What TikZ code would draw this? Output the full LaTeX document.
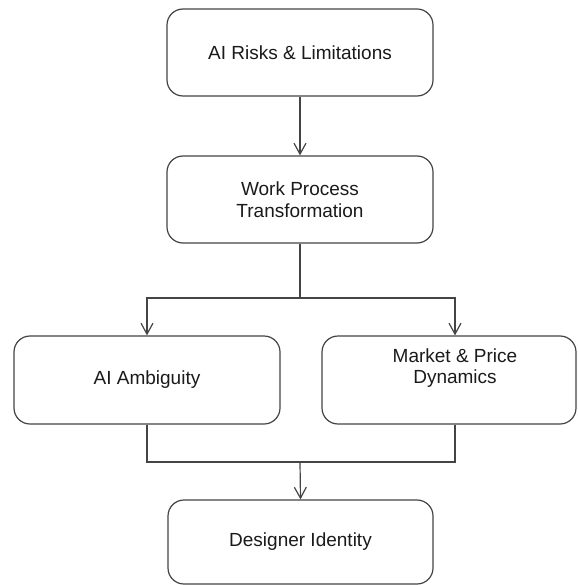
\documentclass[tikz,border=0pt]{standalone}
\usepackage{fontspec}
\setmainfont{Liberation Sans}
\usetikzlibrary{arrows.meta}
\definecolor{linegray}{HTML}{444444}
\definecolor{textgray}{HTML}{1A1A1A}
\tikzset{
  box/.style={draw=linegray, line width=1.2pt, rounded corners=16pt, inner sep=0pt,
    text=textgray, align=center, font=\fontsize{19}{21.5}\selectfont},
  lbl/.style={text=textgray, align=center, inner sep=0pt, font=\fontsize{19}{21.5}\selectfont},
  conn/.style={draw=linegray, line width=1.2pt},
  arr/.style={conn, -{Straight Barb[length=11pt,width=12pt,line width=1.2pt]}}
}
\begin{document}
\begin{tikzpicture}[x=1pt,y=-1pt]
\useasboundingbox (0,0) rectangle (577,585);
\node[box, minimum width=266pt, minimum height=87pt] (risk) at (300,52.5) {AI Risks \& Limitations};
\node[box, minimum width=266pt, minimum height=87pt] (work) at (300,199.5) {Work Process\\Transformation};
\node[box, minimum width=266pt, minimum height=88pt] (amb) at (147,380) {AI Ambiguity};
\node[box, minimum width=254pt, minimum height=88pt] (market) at (449,380) {};
\node[lbl] (markettext) at (455,368) {Market \& Price\\Dynamics};
\node[box, minimum width=265pt, minimum height=84pt] (ident) at (300.5,542) {Designer Identity};
\coordinate (split) at (300,298);
\coordinate (join) at (300,462);
\draw[arr] (risk.south) -- (work.north);
\draw[conn] (work.south) -- (split);
\draw[arr] (split) -| (amb.north);
\draw[arr] (split) -| ([xshift=6pt]market.north);
\draw[conn] (amb.south) |- (join) -| ([xshift=6pt]market.south);
\draw[arr] (join) -- (ident.north);
\end{tikzpicture}
\end{document}
